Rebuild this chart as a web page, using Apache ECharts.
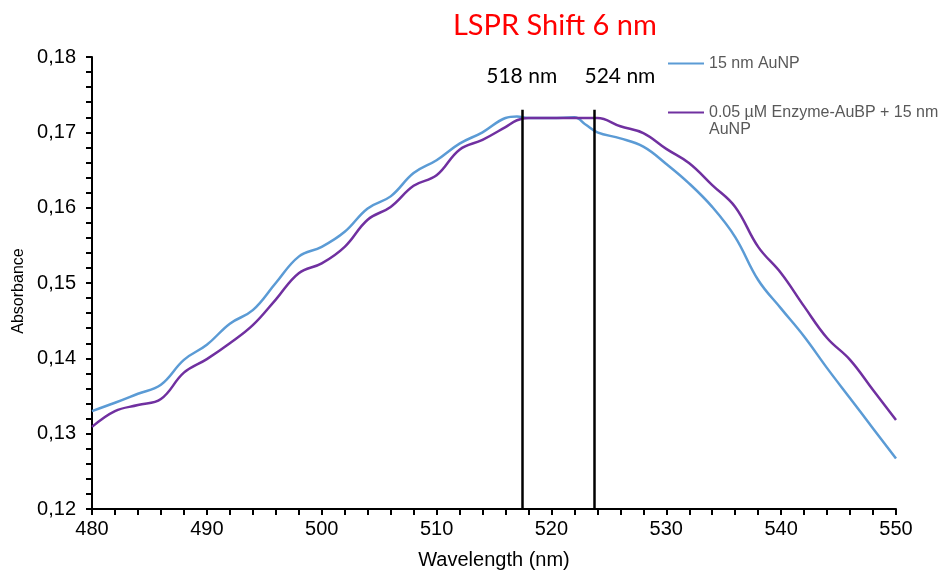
<!DOCTYPE html>
<html>
<head>
<meta charset="utf-8">
<script src="https://cdn.jsdelivr.net/npm/echarts@6/dist/echarts.min.js"></script>
<style>
  html, body { margin: 0; padding: 0; background: #fff; }
  #chart { width: 939px; height: 575px; }
</style>
</head>
<body>
<div id="chart"></div>
<script>
// wavelength (nm)
const wavelengths = [480, 482, 484, 486, 488, 490, 492, 494, 496, 498, 500, 502, 504, 506, 508, 510,
  512, 514, 516, 517, 518, 520, 522, 523, 524, 526, 528, 530, 532, 534, 536, 538, 540, 542, 544, 546, 548, 550]
const auNP = [0.1330, 0.1341, 0.1353, 0.1365, 0.1398, 0.1418, 0.1446, 0.1464, 0.1500, 0.1535, 0.1548, 0.1568,
  0.1599, 0.1615, 0.1646, 0.1663, 0.1685, 0.1700, 0.1719, 0.1721, 0.1719, 0.1719, 0.1720, 0.1710, 0.1700,
  0.1692, 0.1681, 0.1658, 0.1632, 0.1601, 0.1561, 0.1504, 0.1466, 0.1429, 0.1387, 0.1347, 0.1307, 0.1267]
const enzymeAuNP = [0.1309, 0.1330, 0.1338, 0.1346, 0.1381, 0.1399, 0.1420, 0.1444, 0.1478, 0.1513, 0.1526, 0.1548,
  0.1584, 0.1601, 0.1629, 0.1643, 0.1677, 0.1690, 0.1707, 0.1716, 0.1719, 0.1719, 0.1719, 0.1719, 0.1719,
  0.1708, 0.1699, 0.1678, 0.1659, 0.1630, 0.1601, 0.1548, 0.1513, 0.1469, 0.1427, 0.1398, 0.1358, 0.1318]
const peakLines = [517.5, 523.7]
const peakLabels = ['518 nm', '524 nm']

const seriesNames = ['15 nm AuNP', '0.05 µM Enzyme-AuBP + 15 nm AuNP']

const chart = echarts.init(document.getElementById('chart'))

const toPairs = (ys) => wavelengths.map((x, i) => [x, ys[i]])

const legendText = { color: '#595959', fontSize: 16, lineHeight: 17 }
const blackTick = { color: '#000', width: 2 }

const option = {
  animation: false,
  textStyle: { fontFamily: 'Liberation Sans, Arial, sans-serif' },
  grid: { left: 92, right: 43, top: 57, bottom: 66 },
  legend: [
    {
      left: 668,
      top: 55,
      padding: 0,
      itemWidth: 36,
      itemHeight: 2,
      icon: 'rect',
      data: [seriesNames[0]],
      textStyle: legendText
    },
    {
      left: 668,
      top: 87,
      padding: 0,
      itemWidth: 36,
      itemHeight: 2,
      icon: 'rect',
      data: [seriesNames[1]],
      // leading blank line keeps the icon level with the first text line
      formatter: () => '\n0.05 µM Enzyme-AuBP + 15 nm\nAuNP',
      textStyle: legendText
    }
  ],
  xAxis: {
    type: 'value',
    min: 480,
    max: 550,
    interval: 10,
    name: 'Wavelength (nm)',
    nameLocation: 'middle',
    nameGap: 41,
    nameTextStyle: { color: '#000', fontSize: 20 },
    axisLine: { lineStyle: blackTick },
    axisTick: { length: 6, lineStyle: blackTick },
    minorTick: { show: true, splitNumber: 5, length: 6, lineStyle: blackTick },
    axisLabel: { color: '#000', fontSize: 20, margin: 10 },
    splitLine: { show: false }
  },
  yAxis: {
    type: 'value',
    min: 0.12,
    max: 0.18,
    interval: 0.01,
    name: 'Absorbance',
    nameLocation: 'middle',
    nameGap: 64,
    nameTextStyle: { color: '#000', fontSize: 16, padding: [0, 16, 0, 0] },
    axisLine: { show: true, lineStyle: blackTick },
    axisTick: { show: true, length: 6, lineStyle: blackTick },
    minorTick: { show: true, splitNumber: 5, length: 6, lineStyle: blackTick },
    axisLabel: {
      color: '#000',
      fontSize: 20,
      margin: 16,
      formatter: (v) => v.toFixed(2).replace('.', ',')
    },
    splitLine: { show: false }
  },
  series: [
    {
      name: seriesNames[0],
      type: 'line',
      smooth: 0.4,
      showSymbol: false,
      color: '#5B9BD5',
      lineStyle: { width: 2.5 },
      data: toPairs(auNP),
      markLine: {
        silent: true,
        symbol: 'none',
        lineStyle: { color: '#000', width: 2.5, type: 'solid' },
        label: { show: false },
        data: peakLines.map((x) => [{ coord: [x, 0.1730] }, { coord: [x, 0.12] }])
      }
    },
    {
      name: seriesNames[1],
      type: 'line',
      smooth: 0.4,
      showSymbol: false,
      color: '#7030A0',
      lineStyle: { width: 2.5 },
      data: toPairs(enzymeAuNP)
    }
  ]
}

chart.setOption(option)

// title and peak labels placed from the axis scale
const titlePos = chart.convertToPixel({ gridIndex: 0 }, [520.3, 0.18])
const graphics = [{
  type: 'text',
  x: titlePos[0],
  y: 26,
  style: {
    text: 'LSPR Shift 6 nm',
    fill: '#FF0000',
    font: '29px Lato, "Open Sans", sans-serif',
    textAlign: 'center',
    textVerticalAlign: 'middle'
  }
}]
peakLines.forEach((x, i) => {
  const p = chart.convertToPixel({ gridIndex: 0 }, [x, 0.18])
  graphics.push({
    type: 'text',
    x: p[0] + (i === 0 ? -1 : 26),
    y: 76,
    style: {
      text: peakLabels[i],
      fill: '#000',
      font: '21px Lato, "Open Sans", sans-serif',
      textAlign: 'center',
      textVerticalAlign: 'middle'
    }
  })
})
chart.setOption({ graphic: graphics })
</script>
</body>
</html>
